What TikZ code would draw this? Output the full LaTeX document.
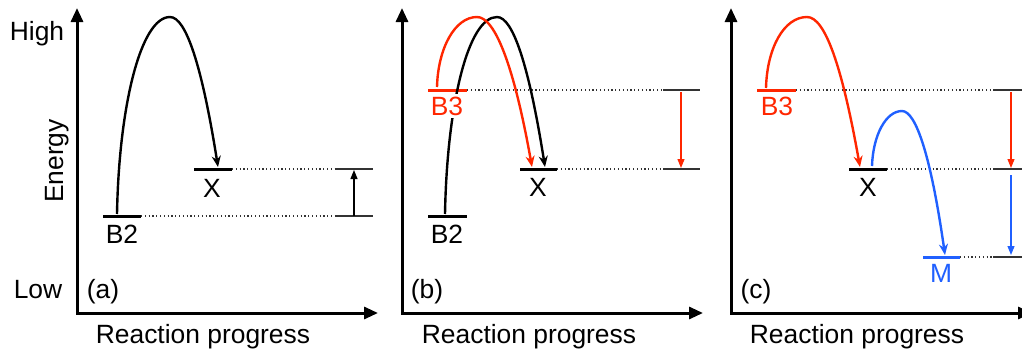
\documentclass[tikz,border=0pt]{standalone}
\usepackage{fontspec}
\setmainfont{Liberation Sans}
\usetikzlibrary{arrows.meta}
\definecolor{hopred}{RGB}{255,38,0}
\definecolor{hopblue}{RGB}{32,96,255}

\begin{document}
\begin{tikzpicture}[x=0.5pt,y=-0.5pt,
  font=\fontsize{13.2}{15}\selectfont,
  axis/.style={line width=1.5pt,{Triangle[length=7pt,width=6pt]}-{Triangle[length=7pt,width=6pt]}},
  level/.style={line width=1.5pt},
  guide/.style={line width=0.6pt,dash pattern=on 0.6pt off 1.3pt,black!80},
  bar/.style={line width=0.8pt,black!80},
  gap/.style={line width=0.6pt,-{Triangle[length=4.5pt,width=3.5pt]}},
  hop/.style={line width=1.2pt,-{Stealth[length=5.5pt,width=4.5pt]}},
  lbl/.style={anchor=base,inner sep=1.5pt,fill=white}]

% Rahmen
\useasboundingbox (0,0) rectangle (1022,354);
\clip (0,0) rectangle (1022,354);

% ---------- (a) ----------
% Achsen
\coordinate (aYtop) at (77,8);
\coordinate (aO) at (77,313);
\coordinate (aXend) at (378,313);
\draw[axis] (aYtop) -- (aO) -- (aXend);
\node[lbl] (high) at (37,40) {High};
\node[lbl] (low) at (38,298) {Low};
\node[lbl,rotate=90] (energy) at (63,161) {Energy};
\node[lbl] (aname) at (103,298) {(a)};
\node[lbl] (aprog) at (203,343) {Reaction progress};

% Niveaus
\coordinate (aB2l) at (103,216); \coordinate (aB2r) at (141,216);
\coordinate (aXl) at (194,169);  \coordinate (aXr) at (232,169);
\draw[level] (aB2l) -- (aB2r);
\draw[level] (aXl) -- (aXr);

% Hilfslinien und Differenz
\coordinate (aB2g) at (336,216); \coordinate (aB2h) at (373,216);
\coordinate (aXg) at (336,169);  \coordinate (aXh) at (373,169);
\draw[guide] (aB2r) -- (aB2g);
\draw[guide] (aXr) -- (aXg);
\draw[bar] (aB2g) -- (aB2h);
\draw[bar] (aXg) -- (aXh);
\coordinate (aGlo) at (354,216); \coordinate (aGhi) at (354,170);
\draw[gap] (aGlo) -- (aGhi);

% Sprung B2 -> X
\coordinate (aS) at (117,214); \coordinate (aP) at (170,17); \coordinate (aE) at (218,167);
\draw[hop] (aS) .. controls (119,105) and (141,17) .. (aP)
  .. controls (186,17) and (202,66) .. (aE);

\node[lbl] (aB2) at (122,243) {B2};
\node[lbl] (aX) at (212,197) {X};

% ---------- (b) ----------
\coordinate (bYtop) at (402,8);
\coordinate (bO) at (402,313);
\coordinate (bXend) at (703,313);
\draw[axis] (bYtop) -- (bO) -- (bXend);
\node[lbl] (bname) at (427,298) {(b)};
\node[lbl] (bprog) at (529,343) {Reaction progress};

% Niveaus
\coordinate (bB3l) at (428,90);  \coordinate (bB3r) at (467,90);
\coordinate (bB2l) at (428,216); \coordinate (bB2r) at (467,216);
\coordinate (bXl) at (520,169);  \coordinate (bXr) at (557,169);
\draw[level,hopred] (bB3l) -- (bB3r);
\draw[level] (bB2l) -- (bB2r);
\draw[level] (bXl) -- (bXr);

% Hilfslinien und Differenz
\coordinate (bB3g) at (663,90);  \coordinate (bB3h) at (700,90);
\coordinate (bXg) at (663,169);  \coordinate (bXh) at (700,169);
\draw[guide] (bB3r) -- (bB3g);
\draw[guide] (bXr) -- (bXg);
\draw[bar] (bB3g) -- (bB3h);
\draw[bar] (bXg) -- (bXh);
\coordinate (bGhi) at (681,92); \coordinate (bGlo) at (681,168);
\draw[gap,hopred] (bGhi) -- (bGlo);

% Spruenge B2 -> X und B3 -> X
\coordinate (bS) at (445,214); \coordinate (bP) at (497,17); \coordinate (bE) at (545,167);
\draw[hop] (bS) .. controls (447,105) and (468,17) .. (bP)
  .. controls (513,17) and (529,66) .. (bE);
\coordinate (bS3) at (437,87); \coordinate (bP3) at (477,17); \coordinate (bE3) at (532,167);
\draw[hop,hopred] (bS3) .. controls (438,48) and (455,17) .. (bP3)
  .. controls (495,17) and (514,66) .. (bE3);

\node[lbl,text=hopred] (bB3) at (447,115) {B3};
\node[lbl] (bB2) at (447,243) {B2};
\node[lbl] (bX) at (538,196) {X};

% ---------- (c) ----------
\coordinate (cYtop) at (731,8);
\coordinate (cO) at (731,313);
\coordinate (cXend) at (1032,313);
\draw[axis] (cYtop) -- (cO) -- (cXend);
\node[lbl] (cname) at (756,298) {(c)};
\node[lbl] (cprog) at (857,343) {Reaction progress};

% Niveaus
\coordinate (cB3l) at (757,90);  \coordinate (cB3r) at (796,90);
\coordinate (cXl) at (849,169);  \coordinate (cXr) at (887,169);
\coordinate (cMl) at (923,257);  \coordinate (cMr) at (960,257);
\draw[level,hopred] (cB3l) -- (cB3r);
\draw[level] (cXl) -- (cXr);
\draw[level,hopblue] (cMl) -- (cMr);

% Hilfslinien und Differenzen
\coordinate (cB3g) at (993,90);  \coordinate (cB3h) at (1030,90);
\coordinate (cXg) at (993,169);  \coordinate (cXh) at (1030,169);
\coordinate (cMg) at (993,257);  \coordinate (cMh) at (1030,257);
\draw[guide] (cB3r) -- (cB3g);
\draw[guide] (cXr) -- (cXg);
\draw[guide] (cMr) -- (cMg);
\draw[bar] (cB3g) -- (cB3h);
\draw[bar] (cXg) -- (cXh);
\draw[bar] (cMg) -- (cMh);
\coordinate (cGa) at (1011,92);  \coordinate (cGb) at (1011,168);
\coordinate (cGc) at (1011,175); \coordinate (cGd) at (1011,255);
\draw[gap,hopred] (cGa) -- (cGb);
\draw[gap,hopblue] (cGc) -- (cGd);

% Spruenge B3 -> X und X -> M
\coordinate (cS3) at (766,88); \coordinate (cP3) at (807,17); \coordinate (cE3) at (860,167);
\draw[hop,hopred] (cS3) .. controls (767,48) and (784,17) .. (cP3)
  .. controls (825,17) and (842,66) .. (cE3);
\coordinate (cSX) at (872,166); \coordinate (cPX) at (902,111); \coordinate (cEX) at (945,255);
\draw[hop,hopblue] (cSX) .. controls (873,135) and (886,111) .. (cPX)
  .. controls (916,111) and (931,157) .. (cEX);

\node[lbl,text=hopred] (cB3) at (777,115) {B3};
\node[lbl] (cX) at (868,196) {X};
\node[lbl,text=hopblue] (cM) at (941,282) {M};

\end{tikzpicture}
\end{document}
